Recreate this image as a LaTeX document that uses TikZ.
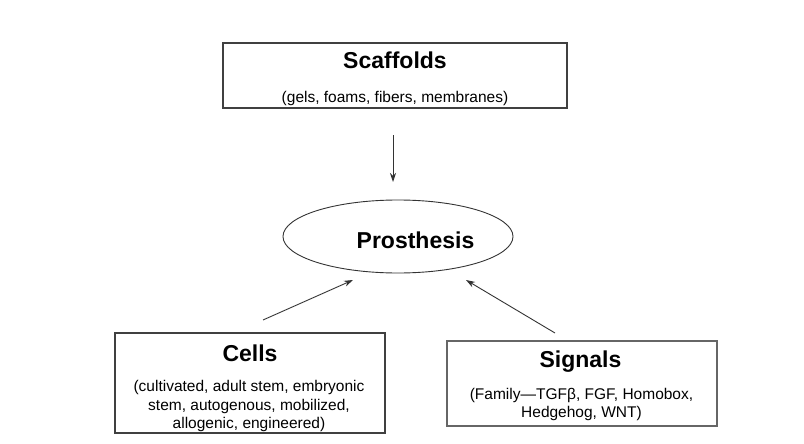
\documentclass[tikz,border=0pt]{standalone}
\usepackage{fontspec}
\setmainfont{Liberation Sans}
\usetikzlibrary{arrows.meta,shapes.geometric}
\begin{document}
\begin{tikzpicture}[x=1pt,y=-1pt,
  box/.style={draw=black!75,line width=1.2pt,inner sep=0pt,rectangle},
  ttl/.style={font=\fontsize{23}{27}\selectfont\bfseries,anchor=base,inner sep=0pt},
  sub/.style={font=\fontsize{15.5}{18.7}\selectfont,anchor=base,inner sep=0pt},
  arr/.style={draw=black!80,line width=0.9pt,-{Stealth[length=9pt,width=6pt]}}]
\useasboundingbox (0,0) rectangle (804,444);
% boxes
\node[box,minimum width=344pt,minimum height=65pt] (scaf) at (395,75.5) {};
\node[box,minimum width=270pt,minimum height=100pt] (cells) at (250,383) {};
\node[box,draw=black!60,line width=1.4pt,minimum width=270pt,minimum height=85pt] (sig) at (582,383.5) {};
\node[ellipse,draw=black!80,line width=0.9pt,minimum width=230pt,minimum height=73pt,inner sep=0pt] (pros) at (398,236.5) {};
% texts
\node[ttl] (scaft) at (395,69) {Scaffolds};
\node[sub] (scafs) at (395,102.5) {(gels, foams, fibers, membranes)};
\node[ttl] (prost) at (415.5,248) {Prosthesis};
\node[ttl] (cellt) at (250,361.5) {Cells};
\node[sub] (cells1) at (249,391.5) {(cultivated, adult stem, embryonic};
\node[sub] (cells2) at (249,410.2) {stem, autogenous, mobilized,};
\node[sub] (cells3) at (249,428.9) {allogenic, engineered)};
\node[ttl] (sigt) at (580.5,367.5) {Signals};
\node[sub] (sigs1) at (581.5,399) {(Family---TGF\symbol{"03B2}, FGF, Homobox,};
\node[sub] (sigs2) at (581.5,417.5) {Hedgehog, WNT)};
% arrows
\coordinate (a1s) at (393,135);
\coordinate (a1t) at (393,182);
\coordinate (a2s) at (263,320);
\coordinate (a2t) at (353,280);
\coordinate (a3s) at (555,333);
\coordinate (a3t) at (466,280);
\draw[arr] (a1s) -- (a1t);
\draw[arr] (a2s) -- (a2t);
\draw[arr] (a3s) -- (a3t);
\end{tikzpicture}
\end{document}
